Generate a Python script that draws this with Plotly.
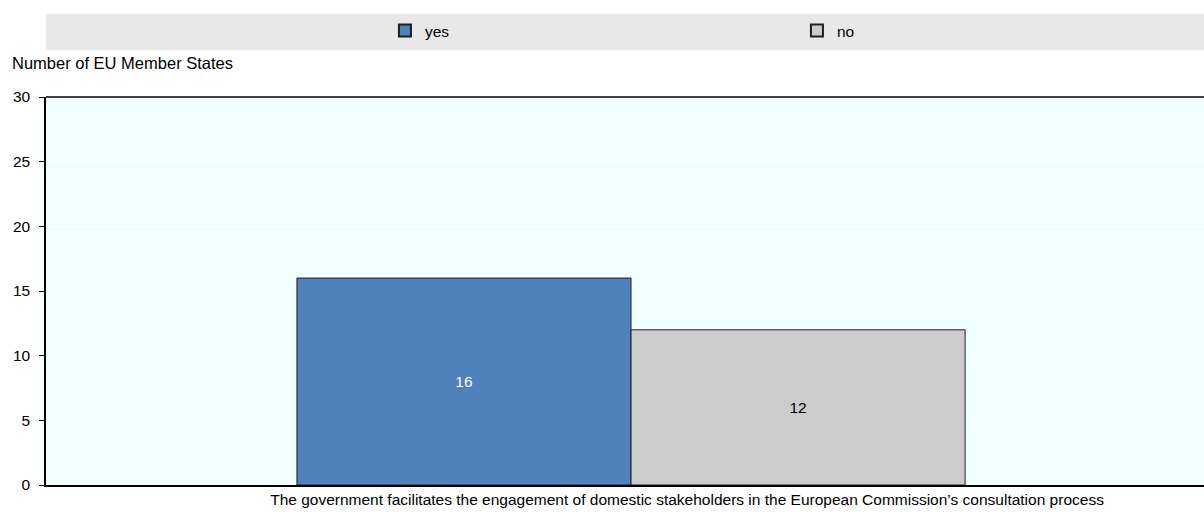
import plotly.graph_objects as go

categories = ["The government facilitates the engagement of domestic stakeholders in the European Commission’s consultation process"]
yes_values = [16]
no_values = [12]
y_ticks = [0, 5, 10, 15, 20, 25, 30]

FONT = "Liberation Sans Narrow, Arial Narrow, Liberation Sans, Arial, sans-serif"
FS = 15.5

fig = go.Figure()
fig.add_trace(go.Bar(
    name="yes", x=categories, y=yes_values,
    marker=dict(color="#4f81bd", line=dict(color="#1f1f1f", width=1)),
    text=[str(v) for v in yes_values], textposition="inside",
    insidetextanchor="middle", textfont=dict(color="white", size=FS, family=FONT),
))
fig.add_trace(go.Bar(
    name="no", x=categories, y=no_values,
    marker=dict(color="#cccccc", line=dict(color="#1f1f1f", width=1)),
    text=[str(v) for v in no_values], textposition="inside",
    insidetextanchor="middle", textfont=dict(color="black", size=FS, family=FONT),
))

fig.update_layout(
    width=1204, height=512,
    margin=dict(l=46, r=0, t=97, b=27, autoexpand=False),
    paper_bgcolor="white",
    plot_bgcolor="#f2ffff",
    barmode="group",
    bargap=0.423,
    bargroupgap=0,
    font=dict(family=FONT, size=FS, color="black"),
    showlegend=True,
    legend=dict(
        orientation="h", x=0.2927, y=1.2139, xanchor="left", yanchor="top",
        bgcolor="rgba(0,0,0,0)", entrywidth=367, entrywidthmode="pixels",
        font=dict(family=FONT, size=FS, color="black"),
        traceorder="normal", itemsizing="constant",
    ),
    xaxis=dict(
        type="category", range=[-0.5052, 0.4948],
        showline=True, linecolor="black", linewidth=1.5,
        ticks="", showgrid=False, ticklabelshift=56,
        tickfont=dict(family=FONT, size=FS, color="black"),
    ),
    yaxis=dict(
        range=[0, 30], tickvals=y_ticks,
        showline=True, linecolor="black", linewidth=1.5,
        ticks="outside", ticklen=5, tickcolor="black", ticklabelstandoff=6,
        showgrid=True, gridcolor="white", gridwidth=1,
        zeroline=False,
        tickfont=dict(family=FONT, size=FS, color="black"),
    ),
    shapes=[
        dict(type="rect", xref="paper", yref="paper", x0=0, x1=1, y0=1.1211, y1=1.2139,
             fillcolor="#e8e8e8", line=dict(width=0), layer="below"),
        dict(type="line", xref="paper", yref="paper", x0=0, x1=1, y0=1, y1=1,
             line=dict(color="black", width=1.5)),
    ],
    annotations=[
        dict(text="Number of EU Member States", xref="paper", yref="paper",
             x=-0.0311, y=1.0876, xanchor="left", yanchor="middle", showarrow=False,
             font=dict(family=FONT, size=16.5, color="black")),
    ],
)

fig.write_html("out.html", config={"displayModeBar": False},
               post_script="document.body.style.margin='0';document.body.style.padding='0';")
